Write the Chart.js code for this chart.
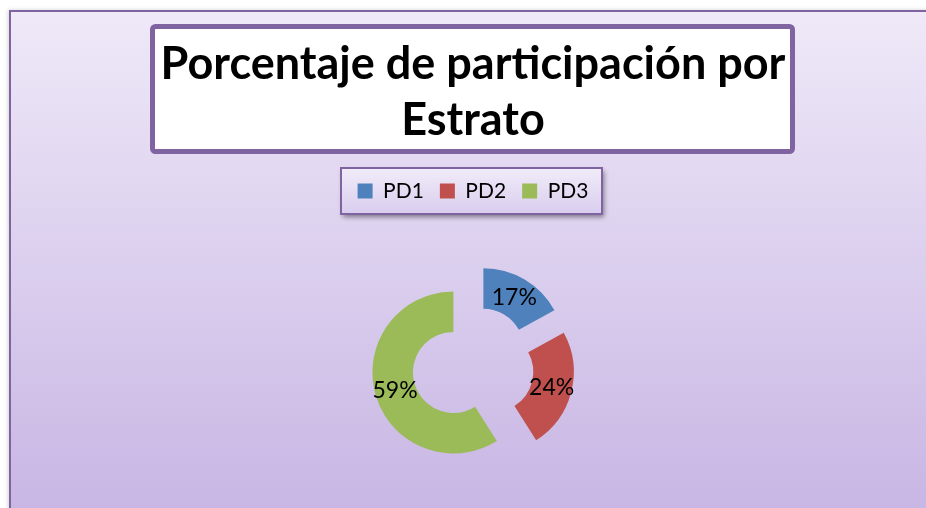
<!DOCTYPE html>
<html>
<head>
<meta charset="utf-8">
<script src="https://cdn.jsdelivr.net/npm/chart.js@4/dist/chart.umd.min.js"></script>
<style>
  html, body { margin: 0; padding: 0; background: #ffffff; overflow: hidden; }
  #wrap { position: relative; width: 926px; height: 508px; overflow: hidden; }
</style>
</head>
<body>
<div id="wrap"><canvas id="c" width="926" height="522"></canvas></div>
<script>
// ---- data ----
const titleLines = ['Porcentaje de participación por', 'Estrato'];
const categories = ['PD1', 'PD2', 'PD3'];
const percentages = [17, 24, 59];
const sliceColors = ['#4F81BD', '#C0504D', '#9BBB59'];

const FONT = 'Lato, "Open Sans", "Liberation Sans", sans-serif';
const EXPLODE = 20.4;

const decorPlugin = {
  id: 'decor',
  beforeDraw(chart) {
    const ctx = chart.ctx;
    ctx.save();
    ctx.fillStyle = '#ffffff';
    ctx.fillRect(0, 0, chart.width, chart.height);
    const g = ctx.createLinearGradient(0, 10, 0, 508);
    g.addColorStop(0, '#EFE9F8');
    g.addColorStop(1, '#C8B6E4');
    ctx.shadowColor = 'rgba(0,0,0,0.18)';
    ctx.shadowBlur = 4;
    ctx.shadowOffsetX = -1;
    ctx.shadowOffsetY = 0;
    ctx.fillStyle = g;
    ctx.fillRect(9, 10, chart.width, chart.height);
    ctx.shadowColor = 'transparent';
    ctx.strokeStyle = '#8064A2';
    ctx.lineWidth = 2;
    ctx.beginPath();
    ctx.moveTo(10, chart.height + 2);
    ctx.lineTo(10, 11);
    ctx.lineTo(chart.width + 2, 11);
    ctx.stroke();

    // title box
    ctx.fillStyle = '#ffffff';
    ctx.strokeStyle = '#8064A2';
    ctx.lineWidth = 5;
    ctx.beginPath();
    ctx.roundRect(152.5, 26.5, 640, 125, 3);
    ctx.fill();
    ctx.stroke();

    // legend box with shadow
    const lg = ctx.createLinearGradient(0, 168, 0, 214);
    lg.addColorStop(0, '#F1ECF9');
    lg.addColorStop(1, '#D9CDEE');
    ctx.save();
    ctx.shadowColor = 'rgba(0,0,0,0.45)';
    ctx.shadowBlur = 5;
    ctx.shadowOffsetX = 2;
    ctx.shadowOffsetY = 3;
    ctx.fillStyle = lg;
    ctx.fillRect(341, 168, 261, 46);
    ctx.restore();
    ctx.strokeStyle = '#8064A2';
    ctx.lineWidth = 2;
    ctx.strokeRect(341, 168, 261, 46);
    ctx.restore();
  }
};

const explodePlugin = {
  id: 'explode',
  afterDatasetUpdate(chart, args) {
    args.meta.data.forEach(arc => {
      const mid = (arc.startAngle + arc.endAngle) / 2;
      arc.x += Math.cos(mid) * EXPLODE;
      arc.y += Math.sin(mid) * EXPLODE;
    });
  }
};

const labelPlugin = {
  id: 'sliceLabels',
  afterDatasetsDraw(chart) {
    const ctx = chart.ctx;
    const meta = chart.getDatasetMeta(0);
    ctx.save();
    ctx.font = '23px ' + FONT;
    ctx.fillStyle = '#000000';
    ctx.textAlign = 'center';
    ctx.textBaseline = 'middle';
    meta.data.forEach((arc, i) => {
      const mid = (arc.startAngle + arc.endAngle) / 2;
      const r = (arc.innerRadius + arc.outerRadius) / 2;
      ctx.fillText(percentages[i] + '%', arc.x + Math.cos(mid) * r, arc.y + Math.sin(mid) * r + 1);
    });
    ctx.restore();
  }
};

new Chart(document.getElementById('c'), {
  type: 'doughnut',
  data: {
    labels: categories,
    datasets: [{
      data: percentages,
      backgroundColor: sliceColors,
      borderWidth: 0
    }]
  },
  options: {
    responsive: false,
    animation: false,
    events: [],
    radius: 81,
    cutout: '50%',
    layout: { padding: { top: 37, left: 20, right: 0, bottom: 0 } },
    plugins: {
      title: {
        display: true,
        text: titleLines,
        color: '#000000',
        font: { family: FONT, size: 45, weight: 'bold', lineHeight: 1.24 },
        padding: { top: 0, bottom: 16 }
      },
      legend: {
        display: true,
        position: 'top',
        labels: {
          color: '#000000',
          font: { family: FONT, size: 21 },
          boxWidth: 15,
          boxHeight: 15,
          padding: 16
        }
      },
      tooltip: { enabled: false }
    }
  },
  plugins: [decorPlugin, explodePlugin, labelPlugin]
});
</script>
</body>
</html>
